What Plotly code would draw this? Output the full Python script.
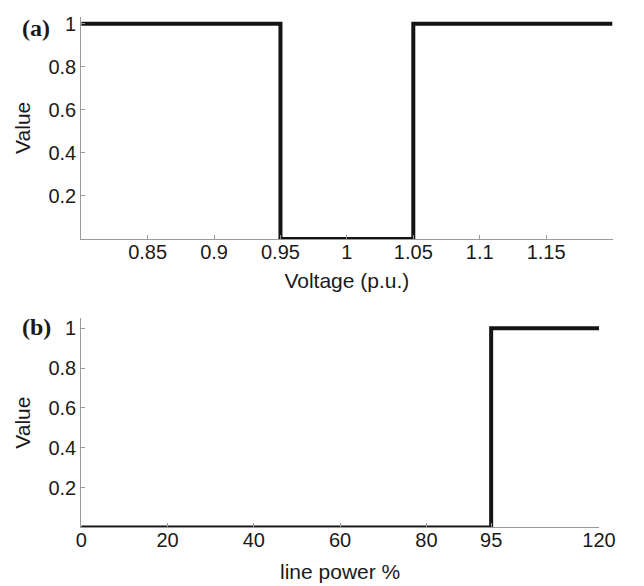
import plotly.graph_objects as go

# Panel (a): voltage membership
volt_x = [0.8, 0.95, 1.05, 1.2]
volt_y = [1, 0, 1, 1]
volt_ticks = [0.85, 0.9, 0.95, 1.0, 1.05, 1.1, 1.15]
volt_ticktext = ["0.85", "0.9", "0.95", "1", "1.05", "1.1", "1.15"]

# Panel (b): line power membership
power_x = [0, 95, 120]
power_y = [0, 1, 1]
power_ticks = [0, 20, 40, 60, 80, 95, 120]
power_ticktext = ["0", "20", "40", "60", "80", "95", "120"]

value_ticks = [0.2, 0.4, 0.6, 0.8, 1.0]
value_ticktext = ["0.2", "0.4", "0.6", "0.8", "1"]

W, H = 644, 586
FONT = "Liberation Sans, Arial, sans-serif"
AX = "#9a9a9a"
TXT = "#1a1a1a"

fig = go.Figure()
fig.add_trace(go.Scatter(x=volt_x, y=volt_y, mode="lines", line_shape="hv",
                         line=dict(color="#141414", width=4),
                         xaxis="x", yaxis="y", showlegend=False, hoverinfo="skip"))
fig.add_trace(go.Scatter(x=power_x, y=power_y, mode="lines", line_shape="hv",
                         line=dict(color="#141414", width=4),
                         xaxis="x2", yaxis="y2", showlegend=False, hoverinfo="skip"))

axis_common = dict(showgrid=False, zeroline=False, showline=True, linecolor=AX,
                   linewidth=1, ticks="inside", ticklen=4, tickcolor=AX, tickwidth=1,
                   tickfont=dict(family=FONT, size=20, color=TXT))
title_font = dict(family=FONT, size=21, color=TXT)

fig.update_layout(
    width=W, height=H,
    margin=dict(l=0, r=0, t=0, b=0),
    paper_bgcolor="white", plot_bgcolor="white",
    xaxis=dict(domain=[78 / W, 629 / W], range=[0.8, 1.2], anchor="y",
               tickvals=volt_ticks, ticktext=volt_ticktext, ticklabelstandoff=-5,
               title=dict(text="Voltage (p.u.)", font=title_font, standoff=11),
               **axis_common),
    yaxis=dict(domain=[1 - 236.6 / H, 1 - 12.7 / H], range=[0, 1.033], anchor="x",
               tickvals=value_ticks, ticktext=value_ticktext,
               title=dict(text="Value", font=title_font, standoff=12),
               **axis_common),
    xaxis2=dict(domain=[78 / W, 615 / W], range=[0, 120], anchor="y2",
                tickvals=power_ticks, ticktext=power_ticktext, ticklabelstandoff=-5,
                title=dict(text="line power %", font=title_font, standoff=13),
                **axis_common),
    yaxis2=dict(domain=[1 - 527 / H, 1 - 316 / H], range=[0, 1.052], anchor="x2",
                tickvals=value_ticks, ticktext=value_ticktext,
                title=dict(text="Value", font=title_font, standoff=12),
                **axis_common),
    annotations=[
        dict(text="<b>(a)</b>", x=15 / W, y=1 - 24 / H, xref="paper", yref="paper",
             xanchor="left", yanchor="middle", showarrow=False,
             font=dict(family="Liberation Serif, Times New Roman, serif", size=24, color=TXT)),
        dict(text="<b>(b)</b>", x=15 / W, y=1 - 325 / H, xref="paper", yref="paper",
             xanchor="left", yanchor="middle", showarrow=False,
             font=dict(family="Liberation Serif, Times New Roman, serif", size=24, color=TXT)),
    ],
)

fig.write_html("out.html")
